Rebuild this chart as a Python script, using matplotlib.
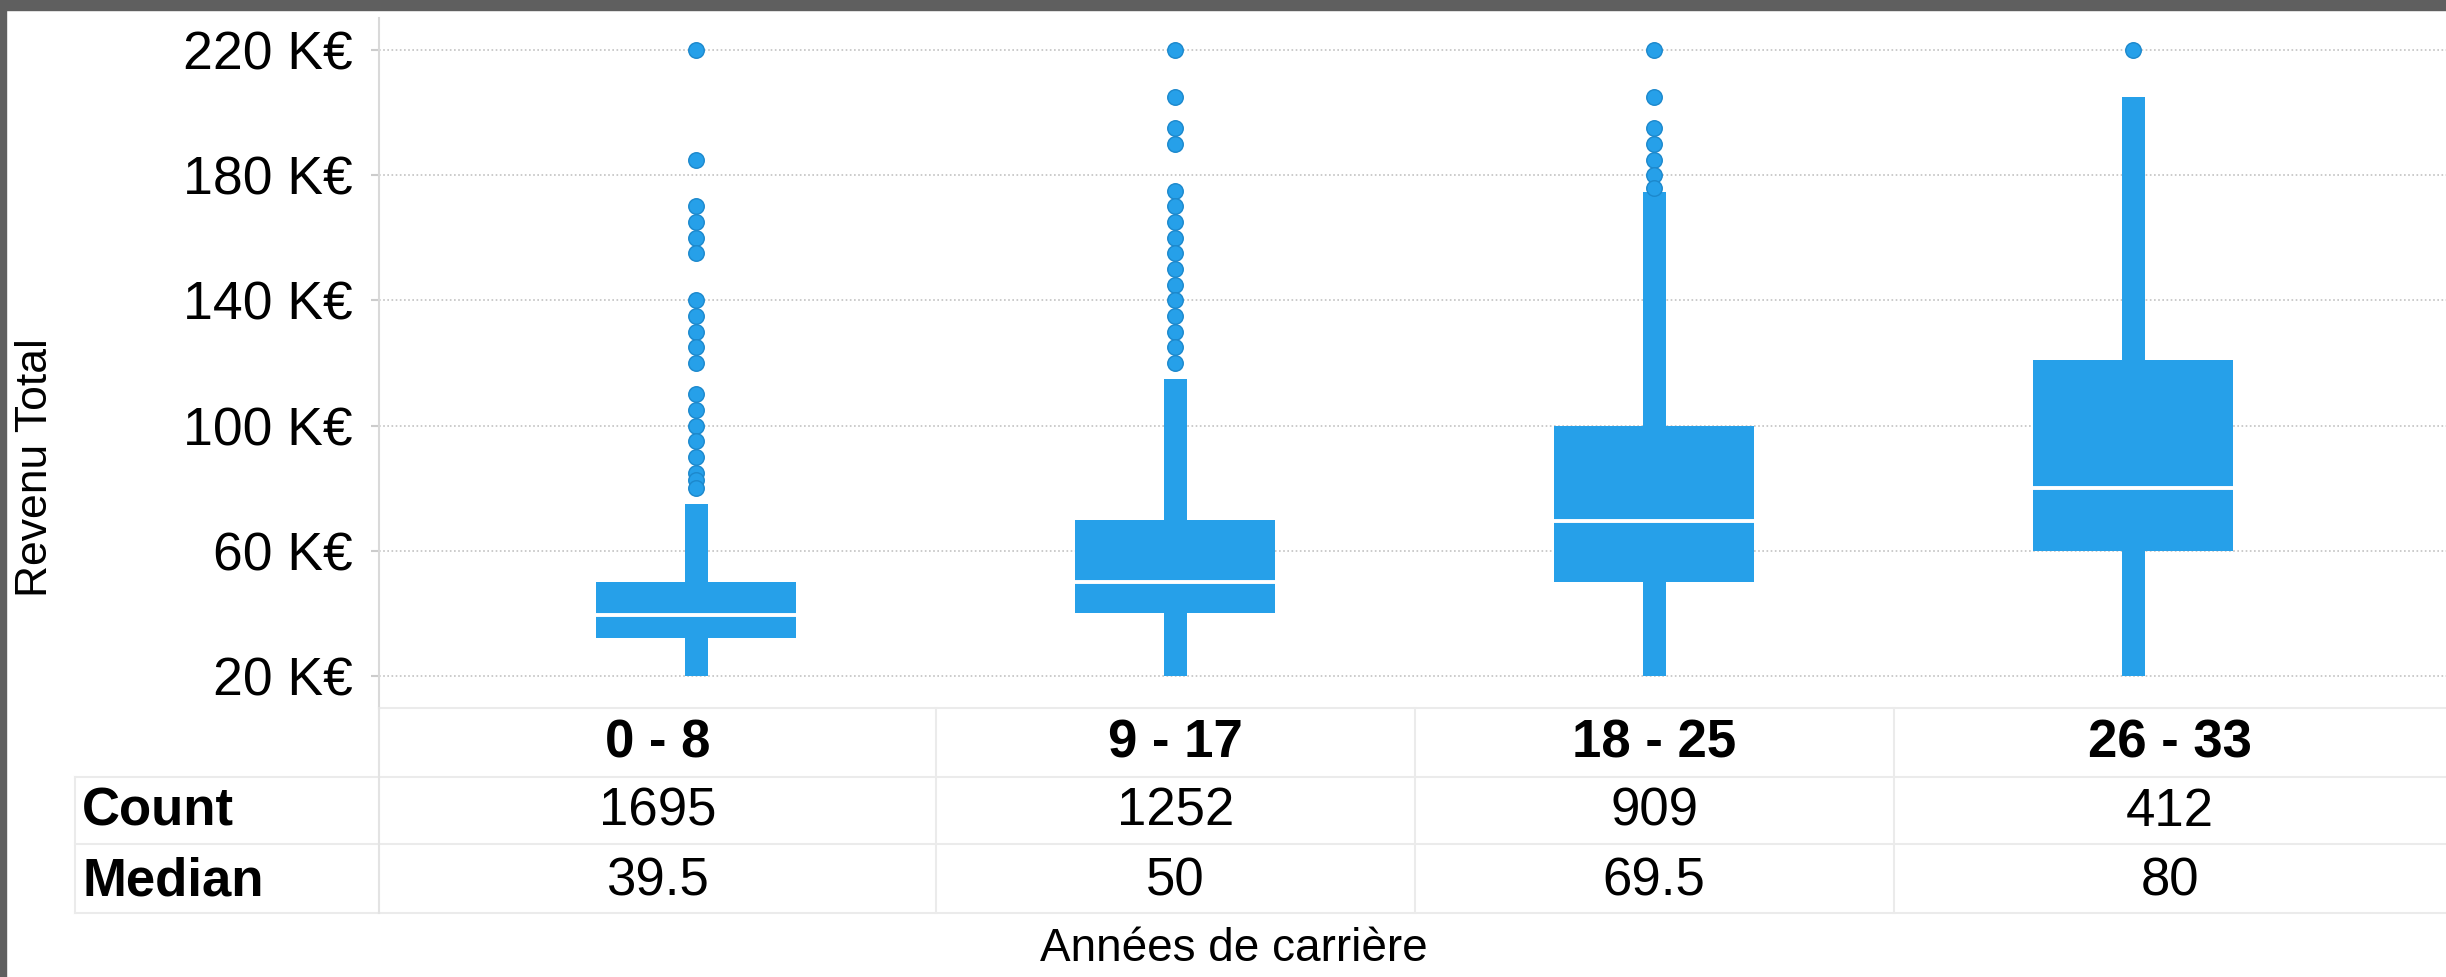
import matplotlib
matplotlib.use("Agg")
import matplotlib.pyplot as plt
from matplotlib.transforms import blended_transform_factory
from matplotlib.lines import Line2D
from matplotlib.patches import Rectangle

plt.rcParams['font.family'] = ['Liberation Sans', 'DejaVu Sans']

# ---- data ----
categories = ["0 - 8", "9 - 17", "18 - 25", "26 - 33"]
counts = [1695, 1252, 909, 412]
medians = [39.5, 50, 69.5, 80]
q1 = [32, 40, 50, 60]
q3 = [50, 70, 100, 121]
whisker_low = [20, 20, 20, 20]
whisker_high = [75, 115, 174.5, 205]
outliers_0_8 = [220, 185, 170, 165, 160, 155, 140, 135, 130, 125, 120, 110, 105, 100, 95, 90, 85, 82.5, 80]
outliers_9_17 = [220, 205, 195, 190, 175, 170, 165, 160, 155, 150, 145, 140, 135, 130, 125, 120]
outliers_18_25 = [220, 205, 195, 190, 185, 180, 176]
outliers_26_33 = [220]
outliers = [outliers_0_8, outliers_9_17, outliers_18_25, outliers_26_33]
yticks = [20, 60, 100, 140, 180, 220]
ytick_labels = [f"{v} K€" for v in yticks]
row_labels = ["Count", "Median"]
x_label = "Années de carrière"
y_label = "Revenu Total"

# ---- layout ----
W, H = 2446, 977
DPI = 100
BLUE = "#26a0e9"
EDGE = "#1c88cc"
LINE = "#ebebeb"

def fy(px):
    return 1 - px / H

def fx(px):
    return px / W

fig = plt.figure(figsize=(W / DPI, H / DPI), dpi=DPI)
fig.patch.set_facecolor("white")
ax = fig.add_axes([fx(379), fy(708), 1 - fx(379), fy(18) - fy(708)])

xs = list(range(len(categories)))
box_w = 0.418
wh_w = 0.048

ax.bar(xs, [h - l for h, l in zip(whisker_high, whisker_low)], bottom=whisker_low,
       width=wh_w, color=BLUE, zorder=3, linewidth=0)
ax.bar(xs, [b - a for a, b in zip(q1, q3)], bottom=q1, width=box_w,
       color=BLUE, zorder=3, linewidth=0)
ax.hlines(medians, [x - box_w / 2 for x in xs], [x + box_w / 2 for x in xs],
          color="white", lw=2.8, zorder=4)
for x, outs in zip(xs, outliers):
    ax.scatter([x] * len(outs), outs, s=125, facecolor=BLUE, edgecolor=EDGE,
               linewidth=1.0, zorder=5)

ax.set_xlim(-0.662, 3.653)
ax.set_ylim(9.8, 230.2)
ax.set_yticks(yticks)
ax.set_yticklabels(ytick_labels)
ax.set_xticks([])
ax.yaxis.grid(True, linestyle=(0, (1, 1.5)), color="#c2c2c2", lw=1.2, zorder=0)
ax.tick_params(axis="y", length=6, width=1.5, color="#cccccc", labelsize=38.5,
               pad=13, labelcolor="black")
for s in ["top", "right"]:
    ax.spines[s].set_visible(False)
ax.spines["left"].set_color("#d9d9d9")
ax.spines["left"].set_linewidth(1.5)
ax.spines["bottom"].set_color(LINE)
ax.spines["bottom"].set_linewidth(1.5)

# ---- table ----
bt = blended_transform_factory(ax.transData, fig.transFigure)
line_kw = dict(color=LINE, lw=1.5)
for ypx in [777, 844, 913]:
    fig.add_artist(Line2D([fx(75), 1], [fy(ypx), fy(ypx)], transform=fig.transFigure, **line_kw))
for xb in [0.5, 1.5, 2.5]:
    fig.add_artist(Line2D([xb, xb], [fy(708), fy(913)], transform=bt, **line_kw))
fig.add_artist(Line2D([fx(379), fx(379)], [fy(708), fy(913)], transform=fig.transFigure, color="#e3e3e3", lw=1.5))
fig.add_artist(Line2D([fx(75), fx(75)], [fy(777), fy(913)], transform=fig.transFigure, **line_kw))

xlo, xhi = ax.get_xlim()
bounds = [xlo, 0.5, 1.5, 2.5, xhi]
col_centers = [(bounds[i] + bounds[i + 1]) / 2 for i in range(len(categories))]

for cx, cat, cnt, med in zip(col_centers, categories, counts, medians):
    fig.text(cx, fy(757), cat, transform=bt, ha="center", va="baseline",
             fontsize=38, fontweight="bold")
    fig.text(cx, fy(826), f"{cnt}", transform=bt, ha="center", va="baseline",
             fontsize=38)
    fig.text(cx, fy(896), f"{med:g}", transform=bt, ha="center", va="baseline",
             fontsize=38)

fig.text(fx(82), fy(826), row_labels[0], ha="left", va="baseline", fontsize=38, fontweight="bold")
fig.text(fx(82), fy(896), row_labels[1], ha="left", va="baseline", fontsize=38, fontweight="bold")

fig.text(fx(1234), fy(961), x_label, ha="center", va="baseline", fontsize=33)
fig.text(fx(36), fy(468), y_label, ha="center", va="center", rotation=90, fontsize=32)

# ---- outer frame ----
fig.add_artist(Rectangle((0, fy(10)), 1, 10 / H, transform=fig.transFigure,
                         color="#5f5f5f", zorder=10))
fig.add_artist(Rectangle((0, 0), fx(6), 1, transform=fig.transFigure,
                         color="#5f5f5f", zorder=10))

fig.savefig("out.png", dpi=DPI, facecolor="white")
